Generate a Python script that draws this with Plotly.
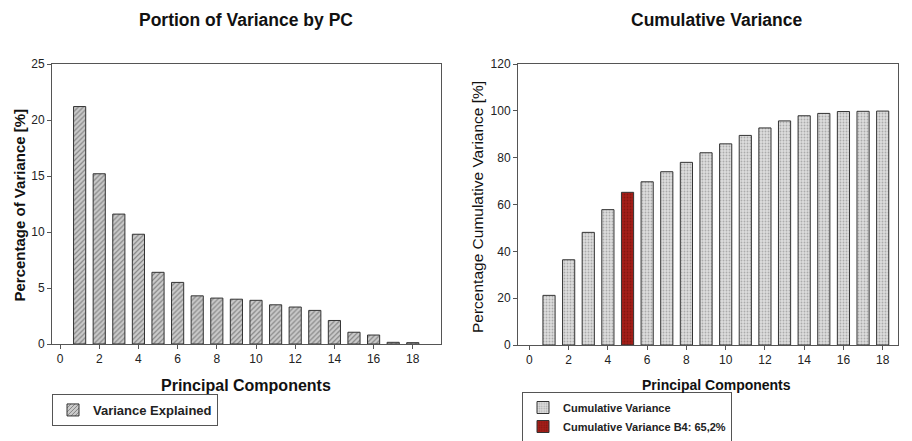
import plotly.graph_objects as go

pcs = list(range(1, 19))
variance = [21.2, 15.2, 11.6, 9.8, 6.4, 5.5, 4.3, 4.1, 4.0, 3.9, 3.5, 3.3, 3.0, 2.1, 1.05, 0.8, 0.15, 0.12]
cumulative = [21.2, 36.4, 48.1, 57.8, 65.2, 69.7, 74.0, 78.0, 82.1, 85.9, 89.5, 92.7, 95.7, 97.9, 98.9, 99.7, 99.8, 99.9]
highlight_pc = 5
x_ticks = list(range(0, 19, 2))
left_y_ticks = [0, 5, 10, 15, 20, 25]
right_y_ticks = [0, 20, 40, 60, 80, 100, 120]

FONT = "Liberation Sans, Arial, sans-serif"
OFF = 8  # page body margin
W, H = 912 - OFF, 441 - OFF

def px(x):
    return (x - OFF) / W

def py(y):
    return 1 - (y - OFF) / H

fig = go.Figure()

fig.add_trace(go.Bar(
    x=pcs, y=variance, width=0.62, name="Variance Explained",
    marker=dict(color="#c8c8c8", line=dict(color="#333333", width=1),
                pattern=dict(shape="/", bgcolor="#cccccc", fgcolor="#3a3a3a", size=3.5, solidity=0.35)),
    xaxis="x", yaxis="y", legend="legend",
))

grey_x = [p for p in pcs if p != highlight_pc]
grey_y = [c for p, c in zip(pcs, cumulative) if p != highlight_pc]
red_y = [c for p, c in zip(pcs, cumulative) if p == highlight_pc]

fig.add_trace(go.Bar(
    x=grey_x, y=grey_y, width=0.62, name="Cumulative Variance",
    marker=dict(color="#d8d8d8", line=dict(color="#333333", width=1),
                pattern=dict(shape=".", bgcolor="#dddddd", fgcolor="#7a7a7a", size=3, solidity=0.3)),
    xaxis="x2", yaxis="y2", legend="legend2",
))
fig.add_trace(go.Bar(
    x=[highlight_pc], y=red_y, width=0.62, name="Cumulative Variance B4: 65,2%",
    marker=dict(color="#9a1a14", line=dict(color="#333333", width=1),
                pattern=dict(shape=".", bgcolor="#a31e18", fgcolor="#6a0c08", size=3, solidity=0.3)),
    xaxis="x2", yaxis="y2", legend="legend2",
))

axis_common = dict(
    showgrid=False, zeroline=False, showline=True, linecolor="#555555", linewidth=1,
    mirror=True, ticks="outside", ticklen=4, tickcolor="#555555",
    tickfont=dict(family=FONT, size=12, color="#222222"),
)

fig.update_layout(
    width=W, height=H,
    margin=dict(l=0, r=0, t=0, b=0, autoexpand=False),
    paper_bgcolor="white", plot_bgcolor="white",
    barmode="overlay",
    xaxis=dict(domain=[px(52), px(441)], range=[-0.41, 19.44], tickvals=x_ticks, anchor="y", **axis_common),
    yaxis=dict(domain=[py(344), py(64)], range=[0, 25], tickvals=left_y_ticks, anchor="x", **axis_common),
    xaxis2=dict(domain=[px(518), px(898)], range=[-0.58, 18.78], tickvals=x_ticks, anchor="y2", **axis_common),
    yaxis2=dict(domain=[py(345), py(64)], range=[0, 120], tickvals=right_y_ticks, anchor="x2", **axis_common),
    legend=dict(x=px(52), y=py(394), xanchor="left", yanchor="top",
                bordercolor="#555555", borderwidth=1, bgcolor="white",
                font=dict(family=FONT, size=13, color="#222222", weight="bold"),
                itemwidth=30),
    legend2=dict(x=px(522), y=py(392), xanchor="left", yanchor="top",
                 bordercolor="#555555", borderwidth=1, bgcolor="white",
                 font=dict(family=FONT, size=11, color="#222222", weight="bold"),
                 itemwidth=30, tracegroupgap=0),
    showlegend=True,
)

ann = [
    dict(text="<b>Portion of Variance by PC</b>", x=px(246), size=17.5),
    dict(text="<b>Cumulative Variance</b>", x=px(716), size=17.5),
]
for a in ann:
    fig.add_annotation(text=a["text"], x=a["x"], y=1, xref="paper", yref="paper",
                       showarrow=False, xanchor="center", yanchor="top",
                       font=dict(family=FONT, size=a["size"], color="#111111"))

for xc, size in [(246, 16), (716, 14)]:
    fig.add_annotation(text="<b>Principal Components</b>", x=px(xc), y=py(385), xref="paper", yref="paper",
                       showarrow=False, xanchor="center", yanchor="middle",
                       font=dict(family=FONT, size=size, color="#111111"))

fig.add_annotation(text="<b>Percentage of Variance [%]</b>", x=0, y=py(205), xref="paper", yref="paper",
                   showarrow=False, textangle=-90, xanchor="left", yanchor="middle",
                   font=dict(family=FONT, size=15, color="#111111"))
fig.add_annotation(text="Percentage Cumulative Variance [%]", x=px(477), y=py(207), xref="paper", yref="paper",
                   showarrow=False, textangle=-90, xanchor="center", yanchor="middle",
                   font=dict(family=FONT, size=15.5, color="#111111"))

fig.write_html("out.html")
